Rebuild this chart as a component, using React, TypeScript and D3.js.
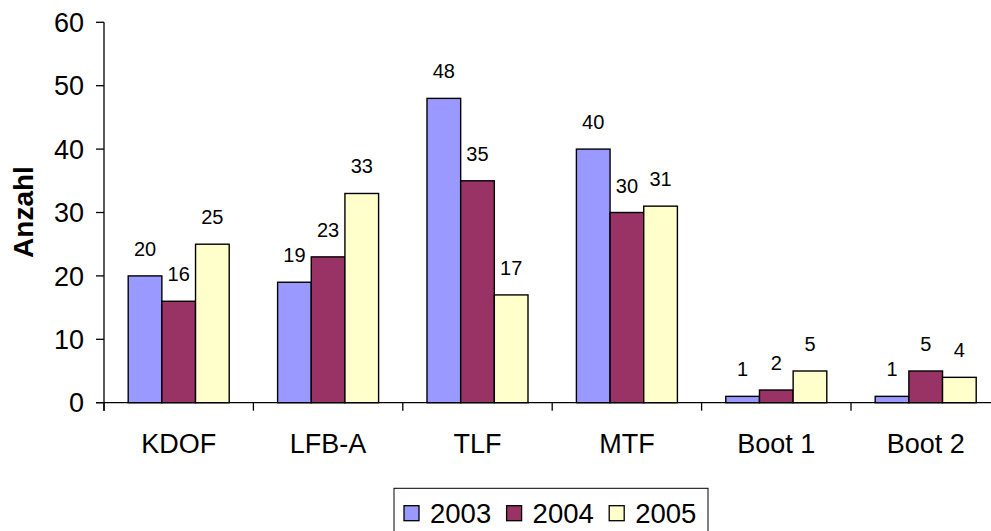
import React from "react";
import * as d3 from "d3";

const categories = ["KDOF", "LFB-A", "TLF", "MTF", "Boot 1", "Boot 2"];
const seriesNames = ["2003", "2004", "2005"];
const values2003 = [20, 19, 48, 40, 1, 1];
const values2004 = [16, 23, 35, 30, 2, 5];
const values2005 = [25, 33, 17, 31, 5, 4];
const yTicks = [0, 10, 20, 30, 40, 50, 60];
const colors = ["#9999FF", "#993366", "#FFFFCC"];

const W = 991;
const H = 531;
const FONT = "Arial, 'Liberation Sans', sans-serif";

export default function App() {
  const series = [values2003, values2004, values2005];
  const x0 = 104;
  const x1 = 104 + 6 * 149.4;
  const yTop = 22.3;
  const yBot = 402.7;

  const x = d3.scaleBand<string>().domain(categories).range([x0, x1]).paddingInner(0).paddingOuter(0);
  const inner = d3
    .scaleBand<string>()
    .domain(seriesNames)
    .range([(x.bandwidth() - 101) / 2, (x.bandwidth() + 101) / 2]);
  const y = d3.scaleLinear().domain([0, 60]).range([yBot, yTop]);

  const boundaries = d3.range(categories.length + 1).map((i) => x0 + i * x.bandwidth());

  return (
    <svg
      width={W}
      height={H}
      style={{ position: "absolute", left: 0, top: 0, background: "#fff" }}
      fontFamily={FONT}
    >
      {/* y axis */}
      <line x1={x0} x2={x0} y1={yTop} y2={yBot + 8} stroke="#000" strokeWidth={1.3} />
      {yTicks.map((t) => (
        <g key={t}>
          <line x1={x0 - 8} x2={x0} y1={y(t)} y2={y(t)} stroke="#000" strokeWidth={1.3} />
          <text x={84} y={y(t)} dy="0.36em" textAnchor="end" fontSize={27} fill="#000">
            {t}
          </text>
        </g>
      ))}
      <text
        transform={`translate(${33},${212}) rotate(-90)`}
        textAnchor="middle"
        fontSize={28}
        fontWeight="bold"
        fill="#000"
      >
        Anzahl
      </text>

      {/* bars */}
      {categories.map((c, ci) => (
        <g key={c} transform={`translate(${x(c)},0)`}>
          {series.map((vals, si) => {
            const bx = inner(seriesNames[si])!;
            const bw = inner.bandwidth();
            return (
              <g key={si}>
                <rect
                  x={bx}
                  y={y(vals[ci])}
                  width={bw}
                  height={yBot - y(vals[ci])}
                  fill={colors[si]}
                  stroke="#000"
                  strokeWidth={1.4}
                />
                <text
                  x={bx + bw / 2}
                  y={y(vals[ci]) - 20}
                  textAnchor="middle"
                  fontSize={20}
                  fill="#000"
                >
                  {vals[ci]}
                </text>
              </g>
            );
          })}
        </g>
      ))}

      {/* x axis */}
      <line x1={x0 - 8} x2={x1} y1={yBot} y2={yBot} stroke="#000" strokeWidth={1.3} />
      {boundaries.map((b, i) => (
        <line key={i} x1={b} x2={b} y1={yBot} y2={yBot + 8} stroke="#000" strokeWidth={1.3} />
      ))}
      {categories.map((c) => (
        <text
          key={c}
          x={x(c)! + x.bandwidth() / 2}
          y={453}
          textAnchor="middle"
          fontSize={27}
          fill="#000"
        >
          {c}
        </text>
      ))}

      {/* legend */}
      <rect x={394} y={488.3} width={314} height={50} fill="#fff" stroke="#000" strokeWidth={1} />
      {seriesNames.map((s, i) => (
        <g key={s} transform={`translate(${404 + i * 102.6},0)`}>
          <rect x={0} y={505.7} width={15} height={15} fill={colors[i]} stroke="#000" strokeWidth={1.3} />
          <text x={26} y={523} fontSize={27.5} fill="#000">
            {s}
          </text>
        </g>
      ))}
    </svg>
  );
}
